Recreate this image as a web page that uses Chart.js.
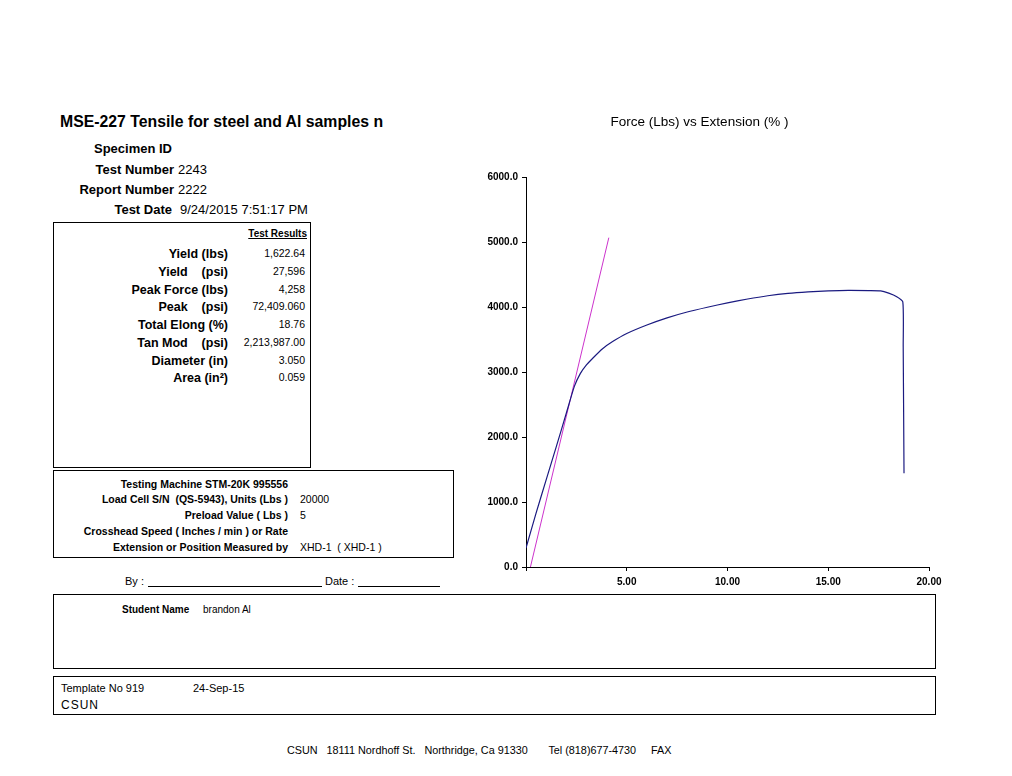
<!DOCTYPE html>
<html>
<head>
<meta charset="utf-8">
<script src="https://cdn.jsdelivr.net/npm/chart.js@4.4.1/dist/chart.umd.min.js"></script>
<style>
  body { margin: 0; width: 1012px; height: 776px; background: #fff; position: relative; overflow: hidden;
         font-family: "Liberation Sans", Arial, sans-serif; color: #000; }
  .t { position: absolute; white-space: pre; line-height: 14px; }
  .r { text-align: right; }
  .b { font-weight: bold; }
  .box { position: absolute; border: 1px solid #000; box-sizing: border-box; }
  .ul { position: absolute; border-bottom: 1px solid #000; height: 0; }
  #wrap { position: absolute; left: 470px; top: 110px; width: 480px; height: 485px; }
</style>
</head>
<body>
<div class="t b" style="left:60px;top:114px;font-size:15.8px;line-height:16px">MSE-227 Tensile for steel and Al samples n</div>

<div class="t r b" style="left:0;width:172px;top:142px;font-size:13px">Specimen ID</div>
<div class="t r b" style="left:0;width:174px;top:163px;font-size:13px">Test Number</div>
<div class="t" style="left:178px;top:163px;font-size:13px">2243</div>
<div class="t r b" style="left:0;width:174px;top:183px;font-size:13px">Report Number</div>
<div class="t" style="left:178px;top:183px;font-size:13px">2222</div>
<div class="t r b" style="left:0;width:172px;top:203px;font-size:13px">Test Date</div>
<div class="t" style="left:180px;top:203px;font-size:13px">9/24/2015 7:51:17 PM</div>

<div class="box" style="left:53px;top:222px;width:258px;height:246px"></div>
<div class="t r b" style="left:0;width:307px;top:227px;font-size:10px;text-decoration:underline">Test Results</div>
<div id="results"></div>

<div class="box" style="left:53px;top:470px;width:401px;height:88px"></div>
<div id="machine"></div>

<div class="t" style="left:125px;top:574px;font-size:11px">By :</div>
<div class="ul" style="left:148px;top:586px;width:174px"></div>
<div class="t" style="left:325px;top:574px;font-size:11px">Date :</div>
<div class="ul" style="left:358px;top:586px;width:82px"></div>

<div class="box" style="left:53px;top:594px;width:883px;height:75px"></div>
<div class="t b" style="left:122px;top:603px;font-size:10px">Student Name</div>
<div class="t" style="left:203px;top:603px;font-size:10px">brandon Al</div>

<div class="box" style="left:53px;top:676px;width:883px;height:39px"></div>
<div class="t" style="left:61px;top:681px;font-size:11px">Template No 919</div>
<div class="t" style="left:193px;top:681px;font-size:11px">24-Sep-15</div>
<div class="t" style="left:61px;top:698px;font-size:12px;letter-spacing:1px">CSUN</div>

<div class="t" style="left:287px;top:743px;font-size:10.8px">CSUN   18111 Nordhoff St.   Northridge, Ca 91330       Tel (818)677-4730     FAX</div>

<div id="wrap"><canvas id="myChart"></canvas></div>

<script>
// test results panel
const resultLabels = ['Yield (lbs)', 'Yield    (psi)', 'Peak Force (lbs)', 'Peak    (psi)', 'Total Elong (%)', 'Tan Mod    (psi)', 'Diameter (in)', 'Area (in\u00b2)'];
const resultValues = ['1,622.64', '27,596', '4,258', '72,409.060', '18.76', '2,213,987.00', '3.050', '0.059'];
const resultRows = [254, 272, 290, 307, 325, 343, 361, 378];

// machine panel
const machineLabels = ['Testing Machine STM-20K 995556', 'Load Cell S/N  (QS-5943), Units (Lbs )', 'Preload Value ( Lbs )', 'Crosshead Speed ( Inches / min ) or Rate', 'Extension or Position Measured by'];
const machineValues = ['', '20000', '5', '', 'XHD-1  ( XHD-1 )'];
const machineRows = [484, 499, 515, 531, 547];

// curve data: extension (%) vs force (lbs)
const extension = [0, 0.5, 1.0, 1.5, 2.0, 2.4, 2.7, 3.0, 3.3, 3.8, 4.3, 5.0, 6.0, 7.0, 8.0, 9.0, 10.0, 11.0, 12.0, 13.0, 14.0, 15.0, 16.0, 17.0, 17.6, 18.0, 18.4, 18.7, 18.72, 18.76];
const force = [292, 830, 1341, 1850, 2366, 2780, 2980, 3110, 3210, 3360, 3470, 3594, 3725, 3835, 3925, 3998, 4066, 4125, 4175, 4212, 4235, 4250, 4258, 4255, 4250, 4215, 4160, 4081, 3390, 1444];
// tangent (modulus) line
const tangentExt = [0.22, 4.11];
const tangentForce = [0, 5069];

const yTicks = [0, 1000, 2000, 3000, 4000, 5000, 6000];
const xTicks = [0, 5, 10, 15, 20];

function addText(parent, html) {
    document.getElementById(parent).insertAdjacentHTML('beforeend', html);
}
resultLabels.forEach(function (lab, i) {
    const top = resultRows[i] - 7;
    addText('results', '<div class="t r b" style="left:0;width:228px;top:' + top + 'px;font-size:12.5px">' + lab + '</div>');
    addText('results', '<div class="t r" style="left:0;width:305px;top:' + (top - 1) + 'px;font-size:10.5px">' + resultValues[i] + '</div>');
});
machineLabels.forEach(function (lab, i) {
    const top = machineRows[i] - 7;
    addText('machine', '<div class="t r b" style="left:0;width:288px;top:' + top + 'px;font-size:10.5px">' + lab + '</div>');
    if (machineValues[i]) {
        addText('machine', '<div class="t" style="left:300px;top:' + top + 'px;font-size:10.5px">' + machineValues[i] + '</div>');
    }
});

const ctx = document.getElementById('myChart').getContext('2d');
const tickFont = { family: '"Liberation Sans", Arial, sans-serif', size: 10, weight: 'bold' };

new Chart(ctx, {
    type: 'scatter',
    data: {
        datasets: [
            {
                label: 'Force',
                data: extension.map((x, i) => ({ x: x, y: force[i] })),
                showLine: true,
                borderColor: '#1a1a80',
                borderWidth: 1.2,
                pointRadius: 0,
                tension: 0.2
            },
            {
                label: 'Tangent',
                data: tangentExt.map((x, i) => ({ x: x, y: tangentForce[i] })),
                showLine: true,
                borderColor: '#cc33cc',
                borderWidth: 1,
                pointRadius: 0
            }
        ]
    },
    options: {
        responsive: true,
        maintainAspectRatio: false,
        animation: false,
        layout: { padding: { left: 0, right: 21, top: 0, bottom: 0 }, autoPadding: false },
        scales: {
            x: {
                type: 'linear',
                min: 0,
                max: 20,
                afterBuildTicks: function (scale) { scale.ticks = xTicks.map(v => ({ value: v })); },
                afterFit: function (scale) { scale.height = 28; },
                ticks: {
                    color: '#000',
                    font: tickFont,
                    padding: 5,
                    maxRotation: 0,
                    callback: function (value) { return value === 0 ? '' : value.toFixed(2); }
                },
                grid: { display: true, drawOnChartArea: false, drawTicks: true, tickLength: 4, color: '#000' },
                border: { display: true, color: '#000', width: 1 }
            },
            y: {
                min: 0,
                max: 6000,
                afterBuildTicks: function (scale) { scale.ticks = yTicks.map(v => ({ value: v })); },
                afterFit: function (scale) { scale.width = 56; },
                ticks: {
                    color: '#000',
                    font: tickFont,
                    padding: 4,
                    callback: function (value) { return value.toFixed(1); }
                },
                grid: { display: true, drawOnChartArea: false, drawTicks: true, tickLength: 4, color: '#000' },
                border: { display: true, color: '#000', width: 1 }
            }
        },
        plugins: {
            legend: { display: false },
            tooltip: { enabled: false },
            title: {
                display: true,
                text: 'Force (Lbs) vs Extension (% )',
                color: '#000',
                font: { family: '"Liberation Sans", Arial, sans-serif', size: 13.5, weight: 'normal' },
                padding: { top: 4, bottom: 47 }
            }
        }
    }
});
</script>
</body>
</html>
